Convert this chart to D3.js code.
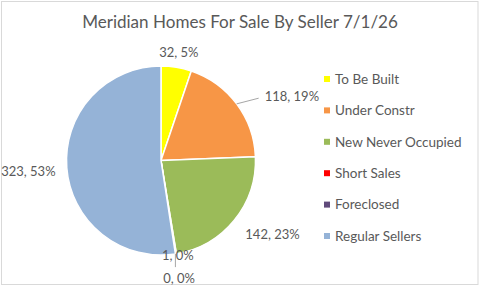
<!DOCTYPE html>
<html><head><meta charset="utf-8">
<script src="https://cdn.jsdelivr.net/npm/d3@7"></script>
<style>body{margin:0;background:#fff}svg{display:block}text{font-family:Lato,"Open Sans",sans-serif;fill:#595959}</style>
</head><body>
<svg id="c" width="480" height="288"></svg>
<script>
const title = "Meridian Homes For Sale By Seller 7/1/26";
const categories = ["To Be Built","Under Constr","New Never Occupied","Short Sales","Foreclosed","Regular Sellers"];
const values = [32,118,142,1,0,323];
const percentLabels = ["5%","19%","23%","0%","0%","53%"];
const colors = ["#FFFF00","#F79646","#9BBB59","#FF0000","#604A7B","#95B3D7"];

const svg = d3.select("#c");
svg.append("rect").attr("x",1.5).attr("y",1.5).attr("width",476.5).attr("height",283).attr("fill","#fff").attr("stroke","#D9D9D9");

const t = svg.append("text").attr("x",240).attr("y",28).attr("text-anchor","middle").style("font-size","18px").text(title);
const tw = t.node().getComputedTextLength();
t.style("font-size",(18*316/tw).toFixed(2)+"px");

const cx=161, cy=160.5, R=94.5;
const g = svg.append("g").attr("transform",`translate(${cx},${cy})`);
const pie = d3.pie().sort(null).value(d=>d)(values);
const arc = d3.arc().innerRadius(0).outerRadius(R);
g.selectAll("path").data(pie).join("path").attr("d",arc).attr("fill",(d,i)=>colors[i]).attr("stroke","#fff").attr("stroke-width",1.5).attr("stroke-linejoin","round");

const layout = [
  {r:110, anchor:"middle", da:0},
  {r:122, anchor:"start", da:5, leader:true},
  {r:112, anchor:"start", da:2},
  {r:96, anchor:"middle", da:-1},
  {r:119, anchor:"middle", da:0, leaderDown:true},
  {r:106, anchor:"end", da:-1.5}
];
const pt = (a,r)=>[r*Math.sin(a), -r*Math.cos(a)];
pie.forEach((d,i)=>{
  const L = layout[i];
  const mid = (d.startAngle+d.endAngle)/2;
  const a = mid + L.da*Math.PI/180;
  const [x,y] = pt(a,L.r);
  if(L.leader){
    const [x0,y0]=pt(mid,R);
    g.append("line").attr("x1",x0).attr("y1",y0).attr("x2",x-6).attr("y2",y+2).attr("stroke","#A6A6A6").attr("stroke-width",1);
  }
  if(L.leaderDown){
    const [x0,y0]=pt(mid,R);
    g.append("line").attr("x1",x0).attr("y1",y0).attr("x2",x0).attr("y2",y-11).attr("stroke","#A6A6A6").attr("stroke-width",1);
  }
  g.append("text").attr("x",x).attr("y",y).attr("text-anchor",L.anchor).attr("dy","0.35em").style("font-size","13px").text(`${values[i]}, ${percentLabels[i]}`);
});

const leg = svg.append("g");
const ly = d3.scalePoint().domain(categories).range([79,236]);
categories.forEach((c,i)=>{
  leg.append("rect").attr("x",324).attr("y",ly(c)-3).attr("width",6).attr("height",6).attr("fill",colors[i]);
  leg.append("text").attr("x",335).attr("y",ly(c)).attr("dy","0.35em").style("font-size","13.5px").text(c);
});
</script>
</body></html>
